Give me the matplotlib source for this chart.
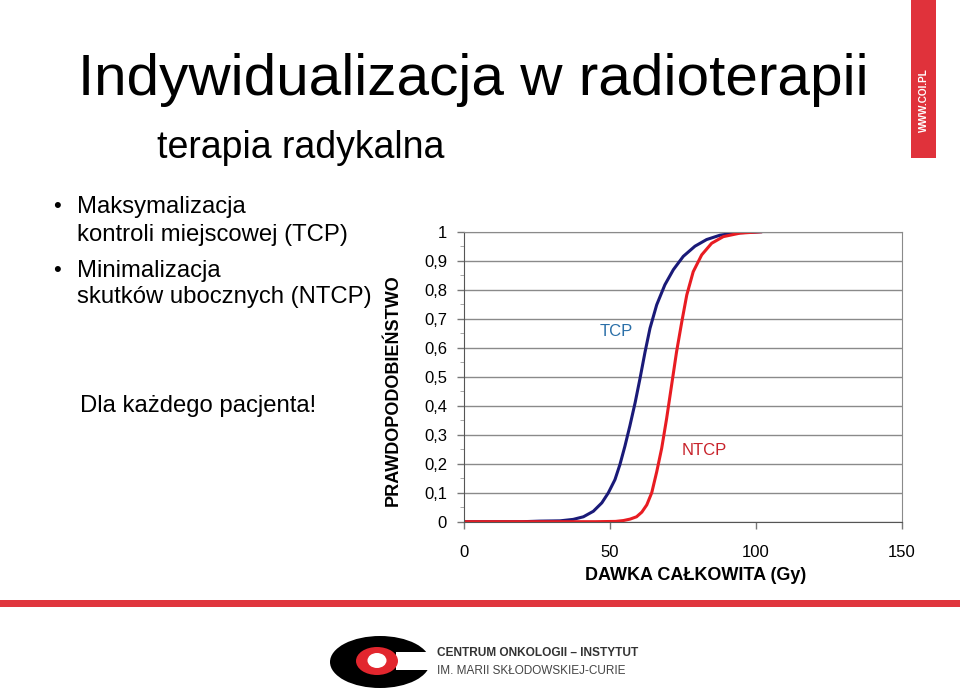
import matplotlib
matplotlib.use('Agg')
import matplotlib.pyplot as plt
from matplotlib.patches import Ellipse, Rectangle
import numpy as np

plt.rcParams['font.family'] = ['Liberation Sans', 'DejaVu Sans']

# dose (Gy) and probability
tcp_dose = [0.5, 20, 26.1, 33.0, 37.5, 41.0, 44.4, 47.3, 49.5, 51.8, 53.5, 55.2, 56.9,
            58.7, 60.4, 62.1, 63.8, 66.1, 68.9, 71.8, 75.2, 79.2, 83.2, 87.8, 93.5, 102.1]
tcp_prob = [0.0, 0.0, 0.002, 0.003, 0.008, 0.017, 0.036, 0.065, 0.099, 0.145, 0.197, 0.26, 0.33,
            0.41, 0.495, 0.585, 0.667, 0.748, 0.817, 0.869, 0.915, 0.95, 0.973, 0.988, 0.996, 1.0]
ntcp_dose = [0.5, 45, 52, 54.7, 57.0, 59.2, 61.0, 62.7, 64.4, 66.1, 67.8, 69.5, 71.2, 72.9,
             74.7, 76.4, 78.6, 81.5, 84.9, 88.9, 94.6, 102.1]
ntcp_prob = [0.0, 0.0, 0.001, 0.004, 0.009, 0.017, 0.033, 0.058, 0.10, 0.172, 0.253, 0.356,
             0.471, 0.586, 0.69, 0.782, 0.862, 0.92, 0.96, 0.983, 0.995, 1.0]

y_ticks = [0, 0.1, 0.2, 0.3, 0.4, 0.5, 0.6, 0.7, 0.8, 0.9, 1]
y_tick_labels = ['0', '0,1', '0,2', '0,3', '0,4', '0,5', '0,6', '0,7', '0,8', '0,9', '1']
x_ticks = [0, 50, 100, 150]

fig = plt.figure(figsize=(9.6, 6.89), dpi=100)

# page overlay in pixel coordinates
bg = fig.add_axes([0, 0, 1, 1])
bg.set_xlim(0, 960)
bg.set_ylim(689, 0)
bg.axis('off')

bg.text(78, 95, 'Indywidualizacja w radioterapii', fontsize=42.1, va='baseline', ha='left')
bg.text(157, 158, 'terapia radykalna', fontsize=27, va='baseline', ha='left')

for y, s in [(213, 'Maksymalizacja'), (241, 'kontroli miejscowej (TCP)'),
             (277, 'Minimalizacja'), (303, 'skutków ubocznych (NTCP)')]:
    bg.text(77, y, s, fontsize=17.2, va='baseline', ha='left')
bg.text(53, 212, '•', fontsize=16, va='baseline', ha='left')
bg.text(53, 276, '•', fontsize=16, va='baseline', ha='left')
bg.text(80, 412, 'Dla każdego pacjenta!', fontsize=17.2, va='baseline', ha='left')

# red banner top right and red rule
bg.add_patch(Rectangle((911, 0), 25, 158, color='#e0323b', lw=0))
bg.text(923.5, 100, 'WWW.COI.PL', color='white', fontsize=7.2, fontweight='bold',
        rotation=90, ha='center', va='center')
bg.add_patch(Rectangle((0, 600), 960, 6.5, color='#e0363e', lw=0))

# logo
bg.add_patch(Ellipse((380, 662), 100, 52, color='black', lw=0))
bg.add_patch(Rectangle((396, 652), 40, 18, color='white', lw=0))
bg.add_patch(Ellipse((377, 661), 42, 28, color='#e2262e', lw=0))
bg.add_patch(Ellipse((377, 660.5), 19, 15, color='white', lw=0))
bg.text(437, 653, 'CENTRUM ONKOLOGII – INSTYTUT', fontsize=8.6, fontweight='bold',
        color='#333333', va='center', ha='left')
bg.text(437, 671, 'IM. MARII SKŁODOWSKIEJ-CURIE', fontsize=8.5, color='#444444',
        va='center', ha='left')

# chart
ax = fig.add_axes([463.7 / 960, 1 - 521.7 / 689, 438 / 960, 290 / 689])
ax.plot(tcp_dose, tcp_prob, color='#1a1a78', lw=2.2, solid_capstyle='round')
ax.plot(ntcp_dose, ntcp_prob, color='#e81c22', lw=2.2, solid_capstyle='round')
ax.set_xlim(0, 150)
ax.set_ylim(0, 1)
ax.set_yticks(y_ticks)
ax.set_yticklabels(y_tick_labels)
ax.set_yticks(np.arange(0.05, 1, 0.1), minor=True)
ax.set_xticks(x_ticks)
ax.tick_params(axis='both', labelsize=12, length=5, width=1, color='#777777', pad=7)
ax.tick_params(axis='y', which='minor', length=3, color='#999999')
ax.tick_params(axis='x', pad=12)
ax.grid(axis='y', color='#8a8a8a', lw=1)
for side in ['top', 'right']:
    ax.spines[side].set_color('#8a8a8a')
for side in ['left', 'bottom']:
    ax.spines[side].set_color('#555555')
ax.set_axisbelow(True)
ax.text(52.2, 0.657, 'TCP', color='#2a6fa8', fontsize=12, ha='center', va='center')
ax.text(82.5, 0.247, 'NTCP', color='#c8232b', fontsize=12, ha='center', va='center')
ax.set_xlabel('DAWKA CAŁKOWITA (Gy)', fontsize=13, fontweight='bold', labelpad=5)
ax.set_ylabel('PRAWDOPODOBIEŃSTWO', fontsize=13, fontweight='bold', labelpad=16)
ax.xaxis.label.set_x((696 - 463.7) / 438)
ax.yaxis.label.set_y((521.7 - 390) / 290)

fig.savefig('out.png', dpi=100)
